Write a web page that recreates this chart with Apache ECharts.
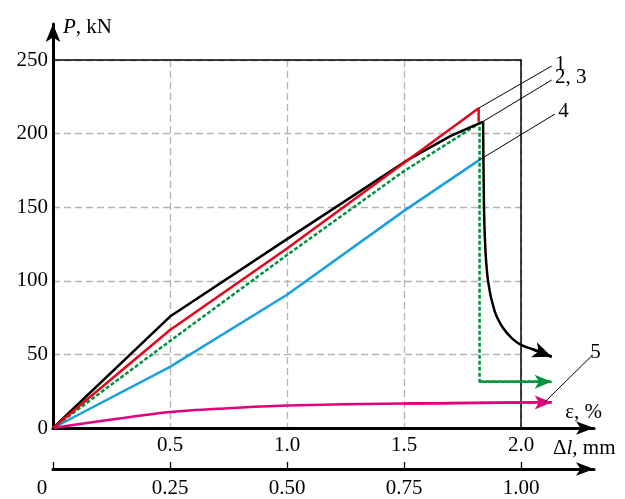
<!DOCTYPE html>
<html>
<head>
<meta charset="utf-8">
<script src="https://cdn.jsdelivr.net/npm/echarts@6/dist/echarts.min.js"></script>
<style>
  html, body { margin: 0; background: #fff; }
  #main { width: 625px; height: 499px; }
</style>
</head>
<body>
<div id="main"></div>
<script>
// P (kN) against elongation Δl (mm)
var curve1 = [[0, 0], [0.5, 66.6], [1.0, 122], [1.819, 217.3], [1.819, 208]];
var curve2Rise = [[0, 0], [0.5, 75.7], [1.0, 128.3], [1.52, 182.5], [1.7, 198.5], [1.838, 208.2]];
var curve2Drop = [[1.838, 208.2], [1.84, 175], [1.845, 131.8], [1.859, 100], [1.887, 79.6],
                  [1.922, 68.3], [1.965, 60.4], [2.007, 55.9], [2.05, 53.5], [2.131, 48.4]];
var curve3 = [[0, 0], [0.5, 59.1], [1.0, 117.5], [1.5, 174.5], [1.823, 207.1], [1.823, 31.5], [2.131, 31.5]];
var curve4 = [[0, 0], [0.5, 41.5], [1.0, 90.5], [1.5, 147.5], [1.821, 182]];
var curve5 = [[0, 0], [0.5, 10.8], [0.75, 13.5], [1.0, 15.3], [1.5, 16.6], [2.131, 17.5]];

// tick labels
var yTicks = [0, 50, 100, 150, 200, 250];
var mmTicks = [0.5, 1.0, 1.5, 2.0];
var pctTicks = [0, 0.25, 0.50, 0.75, 1.00];

// leader lines of the curve numbers: start on the curve, end at the label
var leaderStarts = { '1': curve1[3], '2, 3': curve2Rise[5], '4': curve4[4], '5': [2.10, 17.4] };
var leaderEnds = { '1': [2.131, 245.9], '2, 3': [2.131, 236.4], '4': [2.145, 213.3], '5': [2.306, 49.6] };

var FONT = 'Liberation Serif';
var FS = 21;
var W = 625, L = 53, R_IN = 104, R_OUT = 31;
var xExtMax = 2 * (W - L - R_OUT) / (W - L - R_IN);
var yExtMax = 250 * (499 - 24 - 71) / (499 - 60 - 71);

var myChart = echarts.init(document.getElementById('main'), null, { renderer: 'canvas' });

function leader(name) {
  return [
    { coord: leaderStarts[name], lineStyle: { color: '#000', width: 1, type: 'solid' },
      label: { show: true, position: 'end', distance: 4, formatter: name,
               fontFamily: FONT, fontSize: FS, color: '#000' } },
    { coord: leaderEnds[name] }
  ];
}
function arrow(data, size) {
  return [
    { coord: data[data.length - 2], label: { show: false } },
    { coord: data[data.length - 1], symbol: 'arrow', symbolSize: size }
  ];
}
function curve(data, color, opts) {
  opts = opts || {};
  var style = { color: color, width: 2.5, type: opts.dash || 'solid' };
  var marks = [];
  if (opts.arrow) marks.push(arrow(data, opts.arrow));
  if (opts.leader) marks.push(leader(opts.leader));
  return {
    type: 'line', xAxisIndex: 2, yAxisIndex: 2, data: data,
    showSymbol: false, symbol: 'none', smooth: opts.smooth || false,
    lineStyle: style, itemStyle: { color: color }, z: 3,
    markLine: marks.length ? {
      silent: true, symbol: 'none', animation: false,
      lineStyle: style, label: { show: false }, emphasis: { disabled: true },
      data: marks
    } : undefined
  };
}

var option = {
  animation: false,
  grid: [
    { left: L, right: R_IN, top: 60, bottom: 71 },
    { left: L, right: R_OUT, top: 24, bottom: 71 },
    { left: L, right: R_OUT, top: 420, bottom: 30 }
  ],
  xAxis: [
    { // gridlines and mm labels
      gridIndex: 0, type: 'value', min: 0, max: 2, interval: 0.5,
      axisLine: { show: false }, axisTick: { show: false },
      axisLabel: { customValues: mmTicks, margin: 7, fontFamily: FONT, fontSize: FS, color: '#000',
                   formatter: function (v) { return v.toFixed(1); } },
      splitLine: { show: true, lineStyle: { color: '#b4b4b4', width: 1.3, type: [7, 4] } }
    },
    { // top border
      gridIndex: 0, type: 'value', position: 'top', min: 0, max: 2, z: 1,
      axisLine: { show: true, onZero: false, lineStyle: { color: '#000', width: 1.5 } },
      axisTick: { show: false }, axisLabel: { show: false }, splitLine: { show: false }
    },
    { // main axis with arrow
      gridIndex: 1, type: 'value', min: 0, max: xExtMax, z: 2,
      axisLine: { show: true, symbol: ['none', 'arrow'], symbolSize: [10, 18],
                  lineStyle: { color: '#000', width: 3 } },
      axisTick: { show: false }, axisLabel: { show: false }, splitLine: { show: false },
      name: 'ε, %', nameLocation: 'end', nameGap: 8,
      nameTextStyle: { fontFamily: FONT, fontSize: FS, color: '#000', align: 'right',
                       verticalAlign: 'bottom', padding: [0, 0, 5, 0] }
    },
    { // second axis
      gridIndex: 2, type: 'value', min: 0, max: xExtMax / 2, z: 2,
      axisLine: { show: true, symbol: ['none', 'arrow'], symbolSize: [10, 18],
                  lineStyle: { color: '#000', width: 3 } },
      axisTick: { show: true, inside: true, length: 7, customValues: pctTicks,
                  lineStyle: { color: '#000', width: 1.3 } },
      axisLabel: { customValues: pctTicks, margin: 9, fontFamily: FONT, fontSize: FS, color: '#000',
                   formatter: function (v) { return v === 0 ? '{z|0}' : v.toFixed(2); },
                   rich: { z: { fontFamily: FONT, fontSize: FS, color: '#000', padding: [0, 22, 0, 0] } } },
      splitLine: { show: false },
      name: '{n|Δ}{i|l}{n|, mm}', nameLocation: 'end', nameGap: -41,
      nameTextStyle: { fontFamily: FONT, fontSize: FS, color: '#000', align: 'left',
                       verticalAlign: 'bottom', padding: [0, 0, 10, 0],
                       rich: { n: { fontFamily: FONT, fontSize: FS, color: '#000' },
                               i: { fontFamily: FONT, fontSize: FS, color: '#000', fontStyle: 'italic' } } }
    }
  ],
  yAxis: [
    {
      gridIndex: 0, type: 'value', min: 0, max: 250, interval: 50,
      axisLine: { show: false }, axisTick: { show: false },
      axisLabel: { margin: 5, fontFamily: FONT, fontSize: FS, color: '#000' },
      splitLine: { show: true, lineStyle: { color: '#b4b4b4', width: 1.3, type: [7, 4] } }
    },
    { // right border
      gridIndex: 0, type: 'value', position: 'right', min: 0, max: 250, z: 1,
      axisLine: { show: true, onZero: false, lineStyle: { color: '#000', width: 1.5 } },
      axisTick: { show: false }, axisLabel: { show: false }, splitLine: { show: false }
    },
    {
      gridIndex: 1, type: 'value', min: 0, max: yExtMax, z: 2,
      axisLine: { show: true, symbol: ['none', 'arrow'], symbolSize: [11, 18],
                  lineStyle: { color: '#000', width: 3 } },
      axisTick: { show: false }, axisLabel: { show: false }, splitLine: { show: false },
      name: '{i|P}, kN', nameLocation: 'end', nameGap: -3.5,
      nameTextStyle: { fontFamily: FONT, fontSize: FS, color: '#000', align: 'left',
                       verticalAlign: 'middle', padding: [0, 0, 0, 10],
                       rich: { i: { fontFamily: FONT, fontSize: FS, color: '#000', fontStyle: 'italic' } } }
    },
    { gridIndex: 2, type: 'value', show: false }
  ],
  series: [
    curve(curve4, '#1a9fe0', { leader: '4' }),
    curve(curve5, '#e4007c', { smooth: 0.3, arrow: [10.5, 17], leader: '5' }),
    curve(curve3, '#00933b', { dash: [4, 2], arrow: [10.5, 17] }),
    curve(curve2Rise, '#000000', { leader: '2, 3' }),
    curve(curve2Drop, '#000000', { smooth: 0.4, arrow: [12, 19] }),
    curve(curve1, '#e3051b', { leader: '1' })
  ]
};

myChart.setOption(option);
</script>
</body>
</html>
